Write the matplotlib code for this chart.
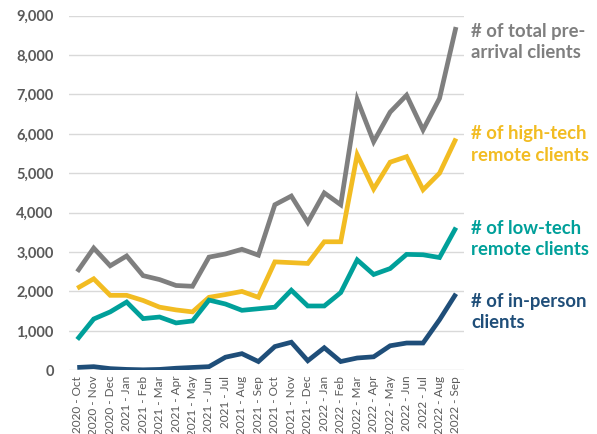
import matplotlib
matplotlib.use('Agg')
import matplotlib.pyplot as plt
from matplotlib.ticker import FuncFormatter

plt.rcParams['font.family'] = ['Lato', 'DejaVu Sans']

months = ['2020 - Oct', '2020 - Nov', '2020 - Dec', '2021 - Jan', '2021 - Feb', '2021 - Mar',
          '2021 - Apr', '2021 - May', '2021 - Jun', '2021 - Jul', '2021 - Aug', '2021 - Sep',
          '2021 - Oct', '2021 - Nov', '2021 - Dec', '2022 - Jan', '2022 - Feb', '2022 - Mar',
          '2022 - Apr', '2022 - May', '2022 - Jun', '2022 - Jul', '2022 - Aug', '2022 - Sep']

total = [2500, 3100, 2650, 2900, 2400, 2300, 2150, 2130, 2870, 2950, 3070, 2920,
         4200, 4420, 3750, 4500, 4200, 6870, 5800, 6550, 6980, 6100, 6900, 8710]
high_tech = [2080, 2320, 1900, 1900, 1770, 1600, 1530, 1480, 1850, 1920, 2000, 1850,
             2750, 2730, 2710, 3260, 3260, 5470, 4600, 5280, 5420, 4580, 5000, 5880]
low_tech = [780, 1300, 1480, 1730, 1310, 1350, 1200, 1250, 1780, 1680, 1520, 1560,
            1600, 2030, 1630, 1630, 1970, 2800, 2430, 2580, 2940, 2930, 2860, 3620]
in_person = [70, 90, 40, 20, 10, 20, 50, 70, 90, 330, 420, 220,
             600, 710, 240, 570, 220, 310, 340, 620, 690, 690, 1280, 1940]

series = [
  (total, '#7F7F7F', '# of total pre-\narrival clients', 0.903),
  (high_tech, '#F2BC22', '# of high-tech\nremote clients', 0.667),
  (low_tech, '#00A09A', '# of low-tech\nremote clients', 0.450),
  (in_person, '#1F4E79', '# of in-person\nclients', 0.282),
]

fig = plt.figure(figsize=(5.97, 4.34), dpi=100)
ax = fig.add_axes([0.1156, 0.147, 0.662, 0.817])

x = list(range(len(months)))
for values, color, label, ty in series:
  ax.plot(x, values, color=color, lw=3.4, solid_joinstyle='miter', solid_capstyle='butt', zorder=3)
  fig.text(0.789, ty, label, color=color, fontsize=13.3, fontweight='bold',
           va='center', ha='left', linespacing=1.3)

ax.set_xlim(-0.5, len(months) - 0.5)
ax.set_ylim(0, 9000)
ax.set_yticks(range(0, 9001, 1000))
ax.yaxis.set_major_formatter(FuncFormatter(lambda v, p: f'{int(v):,}'))
ax.set_xticks(x)
ax.set_xticklabels(months, rotation=90, fontsize=8.5, color='#595959')
ax.tick_params(axis='y', length=0, pad=11, labelsize=10.5, labelcolor='#595959')
ax.tick_params(axis='x', length=0, pad=4)
for lab in ax.get_yticklabels():
  lab.set_fontweight('bold')
ax.grid(axis='y', color='#D9D9D9', lw=1)
ax.set_axisbelow(True)
for s in ax.spines.values():
  s.set_visible(False)

fig.savefig('out.png', dpi=100)
